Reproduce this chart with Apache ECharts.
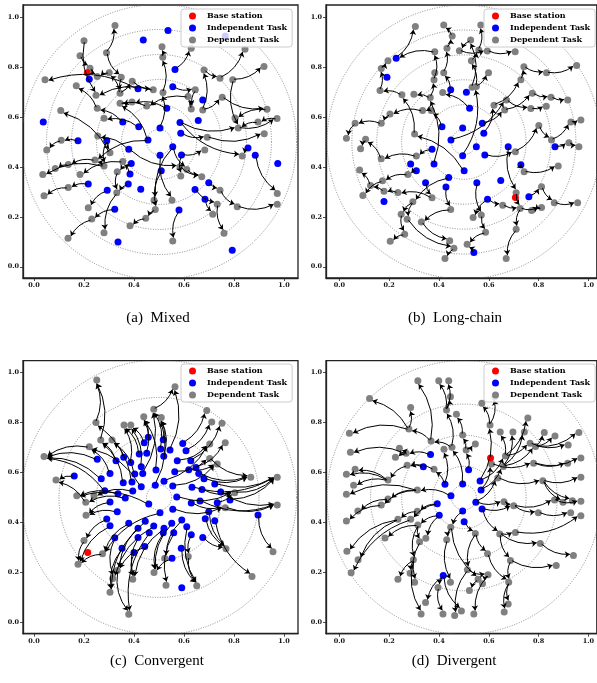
<!DOCTYPE html>
<html><head><meta charset="utf-8">
<script src="https://cdn.jsdelivr.net/npm/echarts@6/dist/echarts.min.js"></script>
<style>html,body{margin:0;padding:0;background:#fff}#c{width:597px;height:683px}</style>
</head><body><div id="c"></div>
<script>
// ---------------- data ----------------
const TICKS = [0.0, 0.2, 0.4, 0.6, 0.8, 1.0];
const CAPTIONS = ['(a)  Mixed', '(b)  Long-chain', '(c)  Convergent', '(d)  Divergent'];
const SERIES_NAMES = ['Base station', 'Independent Task', 'Dependent Task'];

// circle radii around (0.5, 0.5)
const A_RADII = [0.05, 0.15, 0.25, 0.35, 0.45, 0.55];
const B_RADII = [0.05, 0.15, 0.25, 0.35, 0.45, 0.55];
const C_RADII = [0.05, 0.25, 0.40, 0.55];
const D_RADII = [0.05, 0.125, 0.25, 0.375, 0.55];

// ---- (a) Mixed ----
const A_BASE = [[0.213, 0.778]];
const A_INDEP = [
 [0.221,0.751],[0.437,0.909],[0.536,0.947],[0.765,0.925],[0.564,0.791],[0.416,0.713],[0.555,0.721],[0.531,0.635],
 [0.675,0.668],[0.037,0.580],[0.355,0.580],[0.419,0.561],[0.504,0.556],[0.584,0.578],[0.657,0.586],[0.587,0.535],
 [0.176,0.505],[0.291,0.505],[0.456,0.508],[0.555,0.481],[0.856,0.476],[0.379,0.471],[0.504,0.447],[0.590,0.448],
 [0.885,0.447],[0.975,0.414],[0.389,0.414],[0.509,0.385],[0.384,0.372],[0.699,0.337],[0.217,0.332],[0.377,0.332],
 [0.427,0.311],[0.293,0.307],[0.644,0.310],[0.684,0.271],[0.323,0.231],[0.580,0.227],[0.336,0.099],[0.793,0.066]
];
const A_DEP = [
 [0.324,0.967],[0.200,0.906],[0.290,0.858],[0.184,0.846],[0.512,0.882],[0.515,0.840],[0.629,0.876],[0.844,0.872],
 [0.224,0.796],[0.253,0.762],[0.301,0.778],[0.349,0.759],[0.393,0.743],[0.680,0.789],[0.744,0.755],[0.795,0.749],
 [0.920,0.803],[0.044,0.749],[0.169,0.725],[0.477,0.709],[0.516,0.698],[0.645,0.709],[0.248,0.687],[0.344,0.695],
 [0.616,0.682],[0.344,0.655],[0.392,0.660],[0.253,0.635],[0.451,0.644],[0.629,0.632],[0.675,0.628],[0.753,0.679],
 [0.107,0.626],[0.280,0.595],[0.804,0.596],[0.932,0.631],[0.896,0.580],[0.972,0.594],[0.817,0.556],[0.255,0.524],
 [0.693,0.519],[0.921,0.533],[0.109,0.507],[0.051,0.468],[0.683,0.468],[0.304,0.457],[0.833,0.444],[0.355,0.422],
 [0.244,0.428],[0.137,0.410],[0.085,0.394],[0.035,0.370],[0.184,0.370],[0.280,0.404],[0.333,0.381],[0.584,0.401],
 [0.611,0.390],[0.587,0.364],[0.671,0.361],[0.137,0.318],[0.040,0.285],[0.331,0.297],[0.744,0.307],[0.480,0.267],
 [0.552,0.267],[0.485,0.230],[0.733,0.251],[0.813,0.241],[0.973,0.294],[0.973,0.251],[0.217,0.237],[0.715,0.210],
 [0.231,0.191],[0.447,0.194],[0.384,0.164],[0.280,0.136],[0.760,0.134],[0.136,0.114],[0.555,0.103]
];
// edges: 'bN' = N-th independent task, 'gN' = N-th dependent task (1-based)
const A_EDGES = [
 ['g3','g1'],['g2','g23'],['g4','g9'],['g3','g12'],['g11','g10'],['g21','g6'],['g6','g5'],
 ['b5','g7'],['g15','g8'],['g16','g17'],['g14','g15'],['g31','g14'],['g16','g39'],
 ['b6','g18'],['g28','g19'],['g20','g23'],['g24','g13'],['g26','g27'],['g25','g29'],['g22','g30'],
 ['g31','g32'],['g46','g33'],['b12','g34'],['g36','g35'],['g38','g37'],['g37','g39'],['b16','g41'],['g41','g42'],
 ['b17','g43'],['g43','g44'],['b24','g45'],['b14','g47'],['b19','g49'],['g54','g52'],['g50','g51'],['g48','g53'],
 ['b31','g60'],['g60','g61'],['b34','g71'],['g62','g76'],['b37','g73'],['g73','g78'],['g74','g75'],['g66','g74'],
 ['b20','g64'],['b28','g66'],['b23','g65'],['b38','g79'],['g67','g77'],['b36','g72'],['b35','g67'],['b25','g69'],
 ['g68','g70'],['g63','g68'],['b30','g63'],['g56','g59'],['b22','g56'],['b24','g58'],['g12','g24'],['g13','g20'],
 ['g9','g10'],['b7','g22'],['g29','g26'],['b8','g27'],['b13','g21'],['b19','g26'],['b22','g40'],['b11','g28'],
 ['g55','g62'],['b27','g55'],['b29','g48'],['b21','g47'],['g54','g49'],['g30','g25'],['b14','g39'],['g57','g59'],
 ['g49','g50'],['b20','g57'],['b18','g46'],['b18','g54'],['b32','g62'],['g24','g11'],['g32','g36'],['g39','g38']
];

// ---- (b) Long-chain ----
const B_BASE = [[0.707, 0.278]];
const B_INDEP = [
 [0.228,0.836],[0.191,0.759],[0.447,0.709],[0.510,0.699],[0.523,0.635],[0.412,0.561],[0.495,0.556],[0.574,0.575],
 [0.580,0.535],[0.448,0.508],[0.550,0.481],[0.678,0.481],[0.372,0.471],[0.495,0.445],[0.584,0.448],[0.866,0.481],
 [0.286,0.412],[0.380,0.412],[0.729,0.409],[0.309,0.385],[0.501,0.385],[0.439,0.358],[0.346,0.337],[0.552,0.337],
 [0.648,0.346],[0.428,0.320],[0.179,0.262],[0.595,0.271],[0.761,0.281],[0.540,0.057]
];
const B_DEP = [
 [0.305,0.963],[0.419,0.969],[0.568,0.969],[0.453,0.925],[0.527,0.909],[0.432,0.876],[0.560,0.869],[0.594,0.865],
 [0.383,0.862],[0.482,0.866],[0.706,0.862],[0.530,0.826],[0.195,0.826],[0.168,0.795],[0.383,0.778],[0.419,0.778],
 [0.599,0.778],[0.741,0.802],[0.832,0.778],[0.953,0.807],[0.380,0.749],[0.729,0.749],[0.550,0.722],[0.163,0.706],
 [0.251,0.689],[0.415,0.698],[0.365,0.678],[0.299,0.691],[0.533,0.719],[0.775,0.695],[0.850,0.679],[0.917,0.668],
 [0.671,0.668],[0.621,0.647],[0.664,0.628],[0.769,0.634],[0.831,0.643],[0.334,0.626],[0.369,0.626],[0.203,0.612],
 [0.168,0.575],[0.063,0.575],[0.028,0.515],[0.302,0.532],[0.801,0.566],[0.930,0.580],[0.970,0.588],[0.852,0.508],
 [0.922,0.497],[0.962,0.481],[0.105,0.511],[0.085,0.473],[0.168,0.433],[0.309,0.444],[0.707,0.461],[0.879,0.404],
 [0.742,0.381],[0.081,0.388],[0.275,0.370],[0.173,0.345],[0.125,0.326],[0.094,0.286],[0.179,0.303],[0.235,0.298],
 [0.295,0.261],[0.372,0.277],[0.812,0.321],[0.710,0.297],[0.656,0.247],[0.863,0.257],[0.957,0.257],[0.726,0.234],
 [0.772,0.225],[0.812,0.238],[0.248,0.210],[0.447,0.230],[0.272,0.190],[0.537,0.197],[0.570,0.207],[0.329,0.179],
 [0.710,0.150],[0.587,0.138],[0.262,0.130],[0.204,0.102],[0.443,0.104],[0.460,0.074],[0.513,0.090],[0.424,0.033],
 [0.670,0.033]
];
const B_EDGES = [
 [0.228,0.836,0.305,0.963],[0.168,0.795,0.195,0.826],[0.163,0.706,0.168,0.795],[0.251,0.689,0.163,0.706],
 [0.302,0.532,0.251,0.689],[0.501,0.385,0.302,0.532],[0.369,0.626,0.334,0.626],[0.334,0.626,0.203,0.612],
 [0.203,0.612,0.168,0.575],[0.168,0.575,0.063,0.575],[0.063,0.575,0.028,0.515],[0.412,0.561,0.369,0.626],
 [0.168,0.433,0.105,0.511],[0.105,0.511,0.085,0.473],[0.372,0.471,0.309,0.444],[0.309,0.444,0.168,0.433],
 [0.235,0.298,0.179,0.303],[0.179,0.303,0.125,0.326],[0.125,0.326,0.081,0.388],[0.309,0.385,0.275,0.370],
 [0.275,0.370,0.173,0.345],[0.173,0.345,0.094,0.286],[0.372,0.277,0.235,0.298],[0.346,0.337,0.372,0.277],
 [0.295,0.261,0.248,0.210],[0.248,0.210,0.262,0.130],[0.262,0.130,0.204,0.102],[0.428,0.320,0.447,0.230],
 [0.447,0.230,0.329,0.179],[0.329,0.179,0.443,0.104],[0.272,0.190,0.460,0.074],[0.295,0.261,0.272,0.190],
 [0.439,0.358,0.295,0.261],[0.460,0.074,0.424,0.033],[0.587,0.138,0.513,0.090],[0.552,0.337,0.570,0.207],
 [0.570,0.207,0.587,0.138],[0.595,0.271,0.537,0.197],[0.678,0.481,0.710,0.297],[0.710,0.297,0.726,0.234],
 [0.726,0.234,0.710,0.150],[0.710,0.150,0.670,0.033],[0.595,0.271,0.656,0.247],[0.656,0.247,0.726,0.234],
 [0.761,0.281,0.812,0.321],[0.812,0.321,0.863,0.257],[0.863,0.257,0.957,0.257],[0.812,0.238,0.772,0.225],
 [0.726,0.234,0.812,0.238],[0.729,0.409,0.742,0.381],[0.742,0.381,0.879,0.404],[0.584,0.448,0.707,0.461],
 [0.707,0.461,0.801,0.566],[0.801,0.566,0.852,0.508],[0.852,0.508,0.930,0.580],[0.930,0.580,0.970,0.588],
 [0.866,0.481,0.922,0.497],[0.922,0.497,0.962,0.481],[0.664,0.628,0.775,0.695],[0.775,0.695,0.850,0.679],
 [0.850,0.679,0.917,0.668],[0.671,0.668,0.769,0.634],[0.769,0.634,0.831,0.643],[0.729,0.749,0.741,0.802],
 [0.741,0.802,0.832,0.778],[0.832,0.778,0.953,0.807],[0.621,0.647,0.729,0.749],[0.448,0.508,0.671,0.668],
 [0.574,0.575,0.664,0.628],[0.580,0.535,0.621,0.647],[0.453,0.925,0.419,0.969],[0.432,0.876,0.453,0.925],
 [0.419,0.778,0.432,0.876],[0.447,0.709,0.419,0.778],[0.380,0.749,0.383,0.862],[0.365,0.678,0.380,0.749],
 [0.380,0.412,0.365,0.678],[0.365,0.678,0.299,0.691],[0.560,0.869,0.568,0.969],[0.530,0.826,0.560,0.869],
 [0.594,0.865,0.706,0.862],[0.482,0.866,0.594,0.865],[0.527,0.909,0.482,0.866],[0.550,0.722,0.599,0.778],
 [0.495,0.445,0.550,0.722],[0.550,0.722,0.530,0.826],[0.523,0.635,0.415,0.698],[0.383,0.862,0.228,0.836],
 [0.533,0.719,0.527,0.909],[0.540,0.057,0.513,0.090]
];

// ---- (c) Convergent ----
const C_BASE = [[0.215, 0.279]];
const C_INDEP = [
 [0.457,0.741],[0.517,0.731],[0.441,0.719],[0.595,0.716],[0.507,0.694],[0.544,0.690],[0.421,0.674],[0.451,0.677],
 [0.608,0.687],[0.519,0.665],[0.359,0.661],[0.387,0.640],[0.328,0.647],[0.253,0.653],[0.573,0.647],[0.627,0.647],
 [0.648,0.620],[0.429,0.623],[0.403,0.594],[0.435,0.596],[0.488,0.610],[0.563,0.603],[0.619,0.611],[0.659,0.596],
 [0.304,0.596],[0.269,0.575],[0.161,0.586],[0.680,0.575],[0.357,0.559],[0.392,0.562],[0.429,0.543],[0.485,0.549],
 [0.520,0.565],[0.555,0.546],[0.632,0.541],[0.672,0.532],[0.723,0.554],[0.283,0.527],[0.336,0.515],[0.365,0.498],
 [0.395,0.526],[0.571,0.502],[0.747,0.522],[0.304,0.482],[0.629,0.478],[0.664,0.486],[0.733,0.479],[0.784,0.490],
 [0.459,0.474],[0.333,0.443],[0.699,0.443],[0.504,0.439],[0.555,0.453],[0.291,0.414],[0.379,0.397],[0.445,0.405],
 [0.304,0.387],[0.479,0.386],[0.416,0.377],[0.520,0.377],[0.551,0.397],[0.591,0.410],[0.611,0.383],[0.685,0.415],
 [0.723,0.407],[0.323,0.339],[0.416,0.340],[0.461,0.359],[0.517,0.359],[0.559,0.359],[0.629,0.351],[0.675,0.340],
 [0.443,0.303],[0.400,0.279],[0.352,0.296],[0.589,0.296],[0.552,0.256],[0.896,0.430],[0.591,0.138]
];
const C_DEP = [
 [0.251,0.971],[0.564,0.944],[0.479,0.853],[0.439,0.823],[0.509,0.820],[0.387,0.790],[0.248,0.800],[0.360,0.790],
 [0.691,0.848],[0.711,0.802],[0.752,0.797],[0.267,0.730],[0.312,0.730],[0.703,0.714],[0.765,0.719],[0.221,0.703],
 [0.040,0.664],[0.088,0.570],[0.703,0.656],[0.733,0.634],[0.171,0.507],[0.207,0.481],[0.240,0.507],[0.208,0.429],
 [0.867,0.581],[0.973,0.581],[0.803,0.519],[0.765,0.459],[0.973,0.470],[0.200,0.327],[0.274,0.274],[0.176,0.232],
 [0.617,0.263],[0.523,0.256],[0.768,0.294],[0.956,0.282],[0.872,0.183],[0.333,0.207],[0.315,0.175],[0.395,0.172],
 [0.480,0.199],[0.304,0.120],[0.528,0.148],[0.651,0.146],[0.379,0.032]
];
const C_EDGES = [
 [0.457,0.741,0.439,0.823],[0.517,0.731,0.509,0.820],[0.441,0.719,0.387,0.790],[0.595,0.716,0.691,0.848],
 [0.507,0.694,0.479,0.853],[0.544,0.690,0.564,0.944],[0.421,0.674,0.360,0.790],[0.451,0.677,0.439,0.823],
 [0.608,0.687,0.711,0.802],[0.519,0.665,0.509,0.820],[0.359,0.661,0.312,0.730],[0.387,0.640,0.360,0.790],
 [0.328,0.647,0.267,0.730],[0.253,0.653,0.040,0.664],[0.573,0.647,0.703,0.714],[0.627,0.647,0.752,0.797],
 [0.648,0.620,0.765,0.719],[0.429,0.623,0.387,0.790],[0.403,0.594,0.312,0.730],[0.435,0.596,0.479,0.853],
 [0.488,0.610,0.439,0.823],[0.563,0.603,0.703,0.656],[0.619,0.611,0.733,0.634],[0.659,0.596,0.867,0.581],
 [0.304,0.596,0.221,0.703],[0.269,0.575,0.040,0.664],[0.161,0.586,0.088,0.570],[0.680,0.575,0.867,0.581],
 [0.357,0.559,0.267,0.730],[0.392,0.562,0.248,0.800],[0.429,0.543,0.221,0.703],[0.485,0.549,0.509,0.820],
 [0.520,0.565,0.703,0.714],[0.555,0.546,0.733,0.634],[0.632,0.541,0.973,0.581],[0.672,0.532,0.803,0.519],
 [0.723,0.554,0.973,0.581],[0.283,0.527,0.040,0.664],[0.336,0.515,0.171,0.507],[0.365,0.498,0.207,0.481],
 [0.395,0.526,0.240,0.507],[0.571,0.502,0.803,0.519],[0.747,0.522,0.973,0.470],[0.304,0.482,0.208,0.429],
 [0.629,0.478,0.765,0.459],[0.664,0.486,0.973,0.470],[0.733,0.479,0.803,0.519],[0.784,0.490,0.973,0.581],
 [0.459,0.474,0.171,0.507],[0.333,0.443,0.208,0.429],[0.699,0.443,0.768,0.294],[0.504,0.439,0.274,0.274],
 [0.555,0.453,0.765,0.459],[0.291,0.414,0.200,0.327],[0.379,0.397,0.274,0.274],[0.445,0.405,0.333,0.207],
 [0.304,0.387,0.176,0.232],[0.479,0.386,0.315,0.175],[0.416,0.377,0.304,0.120],[0.520,0.377,0.395,0.172],
 [0.551,0.397,0.480,0.199],[0.591,0.410,0.523,0.256],[0.611,0.383,0.651,0.146],[0.685,0.415,0.768,0.294],
 [0.723,0.407,0.872,0.183],[0.323,0.339,0.315,0.175],[0.416,0.340,0.395,0.172],[0.461,0.359,0.379,0.032],
 [0.517,0.359,0.480,0.199],[0.559,0.359,0.528,0.148],[0.629,0.351,0.617,0.263],[0.675,0.340,0.768,0.294],
 [0.443,0.303,0.333,0.207],[0.400,0.279,0.395,0.172],[0.352,0.296,0.304,0.120],[0.589,0.296,0.651,0.146],
 [0.552,0.256,0.480,0.199],[0.896,0.430,0.956,0.282],
 [0.248,0.800,0.251,0.971],[0.267,0.730,0.251,0.971],[0.221,0.703,0.040,0.664],[0.207,0.481,0.088,0.570],
 [0.479,0.853,0.564,0.944],[0.703,0.656,0.867,0.581],[0.803,0.519,0.973,0.581],[0.274,0.274,0.176,0.232],
 [0.333,0.207,0.379,0.032],[0.617,0.263,0.651,0.146],[0.200,0.327,0.176,0.232],[0.765,0.459,0.973,0.470]
];

// ---- (d) Divergent ----
const D_BASE = [[0.607, 0.658]];
const D_INDEP = [
 [0.366,0.672],[0.337,0.623],[0.519,0.611],[0.424,0.553],[0.495,0.554],[0.565,0.566],[0.569,0.530],[0.448,0.507],
 [0.393,0.475],[0.548,0.481],[0.573,0.454],[0.401,0.429],[0.495,0.446],[0.501,0.403],[0.417,0.187]
];
const D_DEP = [
 [0.315,0.968],[0.399,0.968],[0.439,0.968],[0.121,0.897],[0.286,0.860],[0.446,0.904],[0.430,0.850],[0.470,0.833],
 [0.572,0.877],[0.624,0.904],[0.605,0.790],[0.646,0.762],[0.697,0.762],[0.743,0.762],[0.757,0.818],[0.823,0.760],
 [0.866,0.746],[0.962,0.760],[0.279,0.774],[0.040,0.757],[0.368,0.726],[0.495,0.750],[0.546,0.714],[0.509,0.690],
 [0.452,0.701],[0.420,0.693],[0.766,0.717],[0.788,0.704],[0.919,0.710],[0.044,0.681],[0.241,0.697],[0.268,0.677],
 [0.225,0.661],[0.667,0.666],[0.611,0.634],[0.659,0.624],[0.780,0.637],[0.917,0.637],[0.970,0.658],[0.028,0.593],
 [0.063,0.613],[0.272,0.629],[0.380,0.613],[0.636,0.578],[0.028,0.513],[0.057,0.549],[0.195,0.570],[0.313,0.530],
 [0.817,0.567],[0.970,0.581],[0.195,0.494],[0.168,0.470],[0.074,0.446],[0.661,0.483],[0.700,0.467],[0.864,0.490],
 [0.898,0.481],[0.936,0.487],[0.970,0.485],[0.799,0.439],[0.929,0.439],[0.970,0.427],[0.028,0.406],[0.235,0.413],
 [0.313,0.445],[0.286,0.413],[0.315,0.390],[0.347,0.336],[0.183,0.338],[0.447,0.381],[0.431,0.330],[0.546,0.356],
 [0.644,0.354],[0.707,0.360],[0.595,0.274],[0.807,0.315],[0.940,0.267],[0.075,0.250],[0.030,0.284],[0.047,0.198],
 [0.297,0.250],[0.322,0.322],[0.687,0.247],[0.871,0.227],[0.284,0.196],[0.235,0.172],[0.302,0.160],[0.514,0.210],
 [0.557,0.172],[0.597,0.190],[0.680,0.160],[0.522,0.127],[0.575,0.154],[0.346,0.079],[0.328,0.033],[0.416,0.033],
 [0.490,0.045],[0.463,0.027],[0.540,0.033],[0.662,0.041],[0.678,0.073],[0.396,0.139],[0.446,0.160]
];
const D_EDGES = [
 [0.495,0.554,0.452,0.701],[0.452,0.701,0.430,0.850],[0.430,0.850,0.399,0.968],[0.430,0.850,0.439,0.968],
 [0.430,0.850,0.446,0.904],[0.452,0.701,0.368,0.726],[0.368,0.726,0.279,0.774],[0.279,0.774,0.040,0.757],
 [0.279,0.774,0.121,0.897],[0.279,0.774,0.286,0.860],[0.368,0.726,0.315,0.968],[0.519,0.611,0.509,0.690],
 [0.509,0.690,0.495,0.750],[0.495,0.750,0.470,0.833],[0.509,0.690,0.546,0.714],[0.565,0.566,0.605,0.790],
 [0.605,0.790,0.572,0.877],[0.605,0.790,0.624,0.904],[0.569,0.530,0.659,0.624],[0.659,0.624,0.697,0.762],
 [0.659,0.624,0.743,0.762],[0.659,0.624,0.788,0.704],[0.788,0.704,0.866,0.746],[0.788,0.704,0.823,0.760],
 [0.788,0.704,0.962,0.760],[0.565,0.566,0.667,0.666],[0.667,0.666,0.646,0.762],[0.667,0.666,0.757,0.818],
 [0.667,0.666,0.766,0.717],[0.766,0.717,0.919,0.710],[0.611,0.634,0.780,0.637],[0.569,0.530,0.611,0.634],
 [0.780,0.637,0.917,0.637],[0.780,0.637,0.970,0.658],[0.548,0.481,0.661,0.483],[0.661,0.483,0.700,0.467],
 [0.573,0.454,0.700,0.467],[0.700,0.467,0.864,0.490],[0.700,0.467,0.799,0.439],[0.548,0.481,0.636,0.578],
 [0.636,0.578,0.817,0.567],[0.817,0.567,0.970,0.581],[0.817,0.567,0.936,0.487],[0.817,0.567,0.898,0.481],
 [0.799,0.439,0.929,0.439],[0.864,0.490,0.970,0.485],[0.573,0.454,0.644,0.354],[0.644,0.354,0.707,0.360],
 [0.644,0.354,0.807,0.315],[0.807,0.315,0.940,0.267],[0.707,0.360,0.970,0.427],[0.644,0.354,0.687,0.247],
 [0.687,0.247,0.871,0.227],[0.687,0.247,0.680,0.160],[0.680,0.160,0.662,0.041],[0.680,0.160,0.678,0.073],
 [0.501,0.403,0.546,0.356],[0.546,0.356,0.595,0.274],[0.546,0.356,0.514,0.210],[0.514,0.210,0.463,0.027],
 [0.514,0.210,0.597,0.190],[0.597,0.190,0.540,0.033],[0.597,0.190,0.575,0.154],[0.595,0.274,0.680,0.160],
 [0.495,0.446,0.447,0.381],[0.447,0.381,0.431,0.330],[0.431,0.330,0.446,0.160],[0.447,0.381,0.557,0.172],
 [0.557,0.172,0.522,0.127],[0.417,0.187,0.346,0.079],[0.417,0.187,0.490,0.045],[0.417,0.187,0.396,0.139],
 [0.396,0.139,0.416,0.033],[0.401,0.429,0.315,0.390],[0.315,0.390,0.297,0.250],[0.297,0.250,0.284,0.196],
 [0.297,0.250,0.328,0.033],[0.297,0.250,0.235,0.172],[0.315,0.390,0.322,0.322],[0.322,0.322,0.302,0.160],
 [0.401,0.429,0.347,0.336],[0.315,0.390,0.183,0.338],[0.393,0.475,0.313,0.445],[0.313,0.445,0.235,0.413],
 [0.235,0.413,0.075,0.250],[0.235,0.413,0.030,0.284],[0.286,0.413,0.047,0.198],[0.393,0.475,0.286,0.413],
 [0.448,0.507,0.313,0.530],[0.313,0.530,0.168,0.470],[0.168,0.470,0.028,0.406],[0.313,0.530,0.195,0.494],
 [0.195,0.494,0.074,0.446],[0.313,0.530,0.028,0.513],[0.337,0.623,0.272,0.629],[0.272,0.629,0.195,0.570],
 [0.195,0.570,0.063,0.613],[0.195,0.570,0.028,0.593],[0.195,0.570,0.057,0.549],[0.366,0.672,0.268,0.677],
 [0.268,0.677,0.044,0.681],[0.268,0.677,0.241,0.697],[0.268,0.677,0.225,0.661],[0.424,0.553,0.380,0.613],
 [0.380,0.613,0.272,0.629],[0.424,0.553,0.420,0.693]
];

// ---------------- layout ----------------
const PANELS = [
  {grid:{left:23, top:5, width:275, height:273}, x:[-0.044,1.056], y:[-0.045,1.049], legend:{left:181, top:9}, cap:[158,318]},
  {grid:{left:326, top:5, width:271, height:273}, x:[-0.054,1.034], y:[-0.045,1.049], legend:{left:484, top:9}, cap:[455,318]},
  {grid:{left:23, top:360.7, width:275, height:273}, x:[-0.044,1.056], y:[-0.046,1.048], legend:{left:181, top:364}, cap:[157,661]},
  {grid:{left:326, top:360.7, width:271, height:273}, x:[-0.054,1.034], y:[-0.046,1.048], legend:{left:484, top:364}, cap:[454,661]}
];
const DATASETS = [
  {base:A_BASE, indep:A_INDEP, dep:A_DEP, edges:A_EDGES, radii:A_RADII},
  {base:B_BASE, indep:B_INDEP, dep:B_DEP, edges:B_EDGES, radii:B_RADII},
  {base:C_BASE, indep:C_INDEP, dep:C_DEP, edges:C_EDGES, radii:C_RADII},
  {base:D_BASE, indep:D_INDEP, dep:D_DEP, edges:D_EDGES, radii:D_RADII}
];

function resolveEdge(e, ds) {
  if (typeof e[0] === 'string') {
    const p = r => (r[0] === 'b' ? ds.indep : ds.dep)[parseInt(r.slice(1), 10) - 1];
    const a = p(e[0]), b = p(e[1]);
    return [a[0], a[1], b[0], b[1]];
  }
  return e;
}
function shrink(e) {
  const [x1, y1, x2, y2] = e;
  const dx = x2 - x1, dy = y2 - y1, d = Math.hypot(dx, dy) || 1;
  const s0 = 0.006, s1 = 0.015;
  return [[x1 + dx * s0 / d, y1 + dy * s0 / d], [x2 - dx * s1 / d, y2 - dy * s1 / d]];
}

const SERIF = 'DejaVu Serif';
const grids = [], xAxes = [], yAxes = [], series = [], legends = [], graphics = [];

PANELS.forEach((P, i) => {
  const ds = DATASETS[i];
  grids.push(Object.assign({show:true, borderColor:'#222', borderWidth:1.3, backgroundColor:'#fff'}, P.grid));
  const axisCommon = {
    gridIndex:i, type:'value',
    axisLine:{show:true, onZero:false, lineStyle:{color:'#222', width:1.3}},
    axisTick:{show:true, length:3, lineStyle:{color:'#222', width:0.8}, customValues:TICKS},
    axisLabel:{customValues:TICKS, formatter:v => v.toFixed(1), fontFamily:SERIF, fontWeight:'bold', fontSize:6.5, color:'#111', margin:4},
    splitLine:{show:false}
  };
  xAxes.push(Object.assign({}, axisCommon, {min:P.x[0], max:P.x[1]}));
  yAxes.push(Object.assign({}, axisCommon, {min:P.y[0], max:P.y[1]}));

  series.push({
    type:'custom', xAxisIndex:i, yAxisIndex:i, z:1, silent:true, clip:true,
    data: ds.radii.map(r => [r]),
    encode:{x:0},
    renderItem: (params, api) => {
      const c = api.coord([0.5, 0.5]);
      const r = api.size([api.value(0), 0])[0];
      return {type:'circle', shape:{cx:c[0], cy:c[1], r:r},
        style:{fill:null, stroke:'#6e6e6e', lineWidth:0.8, lineDash:[1, 1.5]}};
    }
  });
  series.push({name:SERIES_NAMES[2], type:'scatter', xAxisIndex:i, yAxisIndex:i, z:2, symbolSize:7,
    itemStyle:{color:'#808080', opacity:1}, data:ds.dep});
  series.push({name:SERIES_NAMES[1], type:'scatter', xAxisIndex:i, yAxisIndex:i, z:2, symbolSize:7,
    itemStyle:{color:'#0000ff', opacity:1}, data:ds.indep});
  series.push({name:SERIES_NAMES[0], type:'scatter', xAxisIndex:i, yAxisIndex:i, z:2, symbolSize:7,
    itemStyle:{color:'#ff0000', opacity:1}, data:ds.base});
  series.push({
    type:'lines', coordinateSystem:'cartesian2d', xAxisIndex:i, yAxisIndex:i, z:3, silent:true,
    symbol:['none', 'arrow'], symbolSize:5,
    lineStyle:{color:'#000', width:1, opacity:1, curveness:-0.22},
    data: ds.edges.map(e => ({coords: shrink(resolveEdge(e, ds))}))
  });
  legends.push({
    left:P.legend.left, top:P.legend.top, orient:'vertical', data:SERIES_NAMES,
    icon:'circle', itemWidth:7, itemHeight:7, itemGap:4,
    padding:[3, 5, 3, 8], backgroundColor:'rgba(255,255,255,0.8)', borderColor:'#cccccc', borderWidth:1, borderRadius:3,
    selectedMode:false,
    textStyle:{fontFamily:SERIF, fontWeight:'bold', fontSize:8, lineHeight:8, color:'#000', padding:[0,0,0,6]}
  });
  graphics.push({type:'text', x:P.cap[0], y:P.cap[1],
    style:{text:CAPTIONS[i], font:'15px "Liberation Serif"', fill:'#000', textAlign:'center', textVerticalAlign:'middle'}});
});

const chart = echarts.init(document.getElementById('c'), null, {renderer:'canvas'});
chart.setOption({
  animation:false, backgroundColor:'#fff',
  grid:grids, xAxis:xAxes, yAxis:yAxes, series:series, legend:legends, graphic:graphics
});
</script></body></html>
